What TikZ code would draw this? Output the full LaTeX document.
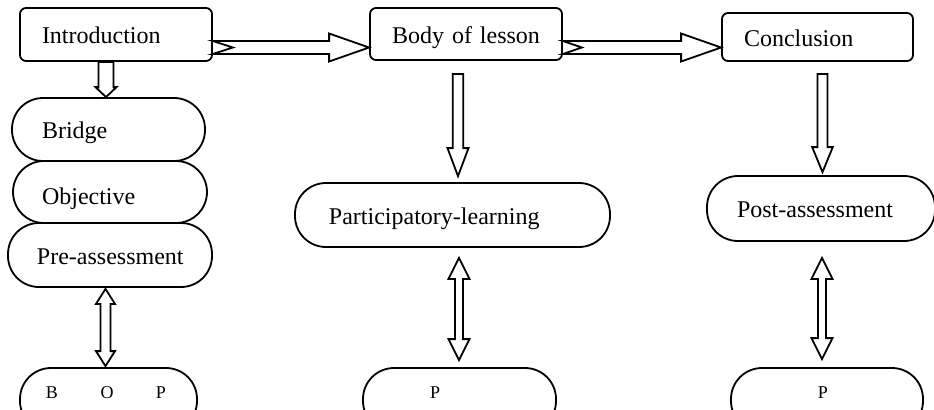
\documentclass[tikz,border=0pt]{standalone}
\usepackage{fontspec}
\setmainfont{Liberation Serif}
\usetikzlibrary{calc}

% hollow block arrows drawn as outlines between two points
\tikzset{
  ba shaft/.store in=\bashaft, ba shaft=3pt,
  ba head/.store in=\bahead, ba head=5pt,
  ba len/.store in=\balen, ba len=10pt,
  ba notch/.store in=\banotch, ba notch=0pt,
  hollow/.style={draw, line join=miter, to path={
    ($(\tikztostart)!\bashaft!90:(\tikztotarget)$)
    -- ($($(\tikztotarget)!\balen!(\tikztostart)$)!\bashaft!90:(\tikztotarget)$)
    -- ($($(\tikztotarget)!\balen!(\tikztostart)$)!\bahead!90:(\tikztotarget)$)
    -- (\tikztotarget)
    -- ($($(\tikztotarget)!\balen!(\tikztostart)$)!\bahead!-90:(\tikztotarget)$)
    -- ($($(\tikztotarget)!\balen!(\tikztostart)$)!\bashaft!-90:(\tikztotarget)$)
    -- ($(\tikztostart)!\bashaft!-90:(\tikztotarget)$)
    -- ($(\tikztostart)!\banotch!(\tikztotarget)$)
    -- cycle}},
  hollow both/.style={draw, line join=miter, to path={
    (\tikztostart)
    -- ($($(\tikztostart)!\balen!(\tikztotarget)$)!\bahead!90:(\tikztotarget)$)
    -- ($($(\tikztostart)!\balen!(\tikztotarget)$)!\bashaft!90:(\tikztotarget)$)
    -- ($($(\tikztotarget)!\balen!(\tikztostart)$)!\bashaft!90:(\tikztotarget)$)
    -- ($($(\tikztotarget)!\balen!(\tikztostart)$)!\bahead!90:(\tikztotarget)$)
    -- (\tikztotarget)
    -- ($($(\tikztotarget)!\balen!(\tikztostart)$)!\bahead!-90:(\tikztotarget)$)
    -- ($($(\tikztotarget)!\balen!(\tikztostart)$)!\bashaft!-90:(\tikztotarget)$)
    -- ($($(\tikztostart)!\balen!(\tikztotarget)$)!\bashaft!-90:(\tikztotarget)$)
    -- ($($(\tikztostart)!\balen!(\tikztotarget)$)!\bahead!-90:(\tikztotarget)$)
    -- cycle}},
  textpad/.style={execute at begin node={\hspace*{#1}}},
  topbox/.style={draw, rounded corners=3pt, text width=96pt, minimum height=26pt,
    inner xsep=0pt, align=left, text height=11pt, text depth=2pt, textpad=11pt},
  stadium/.style={draw, rounded corners=15.5pt, minimum height=32pt,
    inner xsep=0pt, align=left, text height=11pt, text depth=2pt},
  tiny/.style={font=\fontsize{9}{11}\selectfont, text height=4pt, text depth=5.5pt}
}

\begin{document}
\begin{tikzpicture}[x=0.5pt, y=-0.5pt, line width=0.9pt, font=\fontsize{12}{14}\selectfont]
  \useasboundingbox (0,0) rectangle (934,409);
  \coordinate (arrowrow) at (0,47.5);

  % the three stages
  \node[topbox, minimum height=26.5pt] (intro) at (116,34.5) {Introduction};
  \node[topbox] (body) at (466,34) {Body of lesson};
  \node[topbox, text width=95.5pt, minimum height=24pt] (concl) at (817.5,37) {Conclusion};

  % parts of the introduction
  \node[stadium, text width=96.5pt, minimum height=31.5pt, textpad=15pt] (bridge) at (108.5,129.5) {Bridge};
  \node[stadium, text width=97pt, minimum height=31pt, text height=14pt, textpad=14.5pt] (objective) at (110,192) {Objective};
  \node[stadium, text width=102pt, textpad=14.5pt] (preassess) at (110,255) {Pre-assessment};

  % body and conclusion activities
  \node[stadium, text width=157.5pt, textpad=17pt] (partlearn) at (452.5,215) {Participatory-learning};
  \node[stadium, text width=114pt, minimum height=32.5pt, textpad=15pt] (postassess) at (821,208.5) {Post-assessment};

  % bottom row (cut by the page edge)
  \node[stadium, tiny, text width=88.5pt, textpad=13pt] (bop) at (108.5,400) {B\hspace{21.25pt}O\hspace{21.25pt}P};
  \node[stadium, tiny, text width=96.5pt, textpad=33.5pt] (pmid) at (459.5,400) {P};
  \node[stadium, tiny, text width=96pt, textpad=43.5pt] (pright) at (827,400) {P};

  % stage to stage
  \draw[hollow, ba shaft=3.25pt, ba head=7pt, ba len=20pt, ba notch=10pt]
    (intro.east |- arrowrow) to (body.west |- arrowrow);
  \draw[hollow, ba shaft=3.25pt, ba head=7pt, ba len=20pt, ba notch=9.5pt]
    (body.east |- arrowrow) to (concl.west |- arrowrow);

  % stage down to its activity
  \draw[hollow, ba shaft=3.75pt, ba head=5.25pt, ba len=5pt]
    ([xshift=-5pt]intro.south) to ([xshift=-1.25pt]bridge.north);
  \draw[hollow, ba shaft=2.65pt, ba head=5.25pt, ba len=14pt]
    ([xshift=-4pt, yshift=-6.5pt]body.south) to ([xshift=2.75pt, yshift=3pt]partlearn.north);
  \draw[hollow, ba shaft=2.5pt, ba head=5.15pt, ba len=12.5pt]
    ([xshift=2.5pt, yshift=-6pt]concl.south) to ([xshift=0.75pt, yshift=1.5pt]postassess.north);

  % two-way links to the bottom row
  \draw[hollow both, ba shaft=2.5pt, ba head=4.75pt, ba len=7.5pt]
    ([xshift=-2.25pt, yshift=-0.5pt]preassess.south) to ([xshift=-1.5pt, yshift=0.5pt]bop.north);
  \draw[hollow both, ba shaft=2pt, ba head=5.25pt, ba len=10.5pt]
    ([xshift=3.25pt, yshift=-5pt]partlearn.south) to ([xshift=-0.25pt, yshift=3.5pt]pmid.north);
  \draw[hollow both, ba shaft=2pt, ba head=5.25pt, ba len=10.5pt]
    ([xshift=0.5pt, yshift=-8pt]postassess.south) to ([xshift=-2.5pt, yshift=4pt]pright.north);
\end{tikzpicture}
\end{document}
